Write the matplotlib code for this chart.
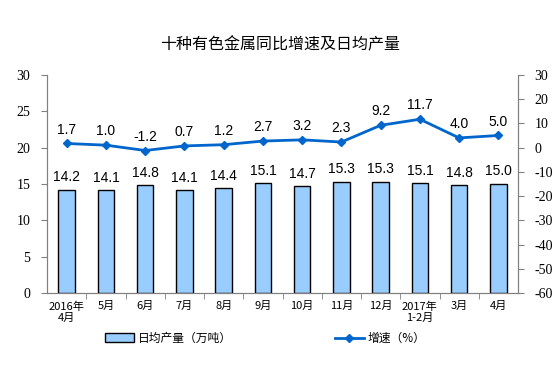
import matplotlib
matplotlib.use('Agg')
import matplotlib.pyplot as plt
from matplotlib.patches import Patch
from matplotlib.lines import Line2D

# data
months = ["2016年\n4月", "5月", "6月", "7月", "8月", "9月", "10月", "11月",
          "12月", "2017年\n1-2月", "3月", "4月"]
output = [14.2, 14.1, 14.8, 14.1, 14.4, 15.1, 14.7, 15.3, 15.3, 15.1, 14.8, 15.0]
growth = [1.7, 1.0, -1.2, 0.7, 1.2, 2.7, 3.2, 2.3, 9.2, 11.7, 4.0, 5.0]

CJK = ['Noto Sans CJK SC', 'DejaVu Sans']
SANS = 'Liberation Sans'
BAR_C = '#99CCFF'
LINE_C = '#0066CC'

# tick numbers are serif in the original
plt.rcParams['font.family'] = 'Liberation Serif'
plt.rcParams['axes.unicode_minus'] = False

fig = plt.figure(figsize=(5.54, 3.69), dpi=100)
ax = fig.add_axes([0.085, 0.206, 0.85, 0.591])
x = list(range(len(months)))

ax.bar(x, output, width=0.42, color=BAR_C, edgecolor='black', linewidth=1.0, zorder=2)
for xi, v in zip(x, output):
    ax.annotate(f"{v:.1f}", (xi, v), xytext=(0, 4), textcoords='offset points',
                ha='center', va='bottom', fontsize=10, family=SANS)

ax.set_xlim(-0.5, len(months) - 0.5)
ax.set_ylim(0, 30)
ax.set_yticks(range(0, 31, 5))
ax.set_xticks(x)
ax.set_xticklabels(months, family=CJK, fontsize=8, linespacing=1.2)
ax.set_xticks([i + 0.5 for i in x[:-1]], minor=True)
ax.tick_params(axis='x', which='major', length=0, pad=6)
ax.tick_params(axis='x', which='minor', length=4, color='#808080', direction='out')
ax.tick_params(axis='y', length=4, color='#808080', labelsize=10, pad=8)
for s in ['left', 'bottom', 'right']:
    ax.spines[s].set_color('#808080')
ax.spines['top'].set_visible(False)

ax2 = ax.twinx()
ax2.plot(x, growth, color=LINE_C, linewidth=2, marker='D', markersize=4, zorder=3)
for xi, v in zip(x, growth):
    ax2.annotate(f"{v:.1f}", (xi, v), xytext=(0, 5), textcoords='offset points',
                 ha='center', va='bottom', fontsize=10, family=SANS)
ax2.set_ylim(-60, 30)
ax2.set_yticks(range(-60, 31, 10))
ax2.tick_params(axis='y', length=4, color='#808080', labelsize=10, pad=8)
for s in ['left', 'bottom', 'right']:
    ax2.spines[s].set_color('#808080')
ax2.spines['top'].set_visible(False)

fig.text(0.505, 0.878, "十种有色金属同比增速及日均产量", ha='center', va='center',
         fontsize=11.5, family=CJK, fontweight='medium')

h1 = Patch(facecolor=BAR_C, edgecolor='black', linewidth=1.0)
h2 = Line2D([], [], color=LINE_C, linewidth=2, marker='D', markersize=4)
fig.legend([h1], ["日均产量（万吨）"], loc='center left', bbox_to_anchor=(0.17, 0.083),
           frameon=False, prop={'family': CJK, 'size': 8.5}, handlelength=2.5,
           handleheight=0.8, handletextpad=0.3)
fig.legend([h2], ["增速（%）"], loc='center left', bbox_to_anchor=(0.585, 0.083),
           frameon=False, prop={'family': CJK, 'size': 8.5}, handlelength=2.5,
           handletextpad=0.3)

fig.savefig('out.png', dpi=100)
